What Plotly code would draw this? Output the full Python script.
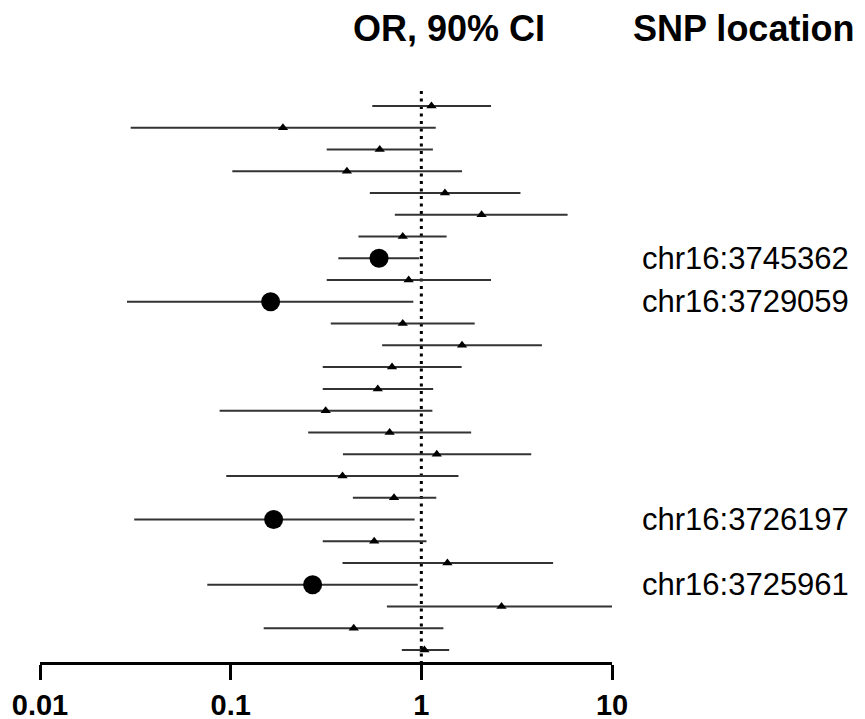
import plotly.graph_objects as go

# ---- data ----
odds_ratio = [1.13, 0.188, 0.605, 0.407, 1.33, 2.07, 0.799, 0.60, 0.858, 0.162,
              0.799, 1.635, 0.702, 0.591, 0.315, 0.682, 1.205, 0.386, 0.719, 0.168,
              0.566, 1.37, 0.269, 2.634, 0.442, 1.038]
ci_low = [0.553, 0.0299, 0.319, 0.102, 0.537, 0.726, 0.468, 0.367, 0.319, 0.0286,
          0.335, 0.623, 0.304, 0.304, 0.0875, 0.255, 0.388, 0.0948, 0.4375, 0.0312,
          0.304, 0.386, 0.0754, 0.66, 0.149, 0.79]
ci_high = [2.32, 1.19, 1.15, 1.635, 3.31, 5.85, 1.357, 0.976, 2.32, 0.908,
           1.905, 4.29, 1.627, 1.154, 1.143, 1.825, 3.77, 1.566, 1.198, 0.922,
           1.064, 4.91, 0.958, 10.0, 1.305, 1.40]
snp_labels = {7: "chr16:3745362", 9: "chr16:3729059",
              19: "chr16:3726197", 22: "chr16:3725961"}
tick_vals = [0.01, 0.1, 1, 10]
tick_text = ["0.01", "0.1", "1", "10"]
header_or = "OR, 90% CI"
header_snp = "SNP location"

W, H = 865, 719
FONT = "Liberation Sans, Arial, sans-serif"

rows = list(range(len(odds_ratio)))
sig_idx = sorted(snp_labels.keys())
oth_idx = [i for i in rows if i not in snp_labels]

def pick(arr, idx):
    return [arr[i] for i in idx]

fig = go.Figure()

def add_series(idx, symbol, size):
    x = pick(odds_ratio, idx)
    fig.add_trace(go.Scatter(
        x=x, y=idx, mode="markers",
        marker=dict(symbol=symbol, size=size, color="black", line=dict(width=0)),
        error_x=dict(type="data", symmetric=False,
                     array=[ci_high[i] - odds_ratio[i] for i in idx],
                     arrayminus=[odds_ratio[i] - ci_low[i] for i in idx],
                     width=0, thickness=2, color="#333333"),
        showlegend=False, hoverinfo="skip", cliponaxis=False))

add_series(oth_idx, "triangle-up", 9)
add_series(sig_idx, "circle", 19)

# pixel geometry
x_left, x_right = 40, 612
y_axis_px, top_px = 662, 80
row0_px, row_step = 106, 21.76
n = len(odds_ratio)
y_bottom = (n - 1) + (y_axis_px - (row0_px + (n - 1) * row_step)) / row_step
y_top = -(row0_px - top_px) / row_step

# reference dotted line at OR = 1
fig.add_shape(type="line", xref="x", yref="y", x0=1, x1=1,
              y0=-(row0_px - 91) / row_step, y1=y_bottom,
              line=dict(color="black", width=3, dash="3px,4.5px"), layer="below")

for i, lab in snp_labels.items():
    fig.add_annotation(x=640 / W, xref="paper", y=i, yref="y", text=lab,
                       showarrow=False, xanchor="left", yanchor="middle",
                       font=dict(family=FONT, size=31, color="black"))

fig.add_annotation(x=449 / W, xref="paper", y=1 - 29 / H, yref="paper",
                   text="<b>%s</b>" % header_or, showarrow=False,
                   xanchor="center", yanchor="middle",
                   font=dict(family=FONT, size=36, color="black"))
fig.add_annotation(x=631 / W, xref="paper", y=1 - 29 / H, yref="paper",
                   text="<b>%s</b>" % header_snp, showarrow=False,
                   xanchor="left", yanchor="middle",
                   font=dict(family=FONT, size=36, color="black"))

fig.update_layout(
    width=W, height=H, margin=dict(l=0, r=0, t=0, b=0, pad=0, autoexpand=False),
    plot_bgcolor="white", paper_bgcolor="white", hovermode=False,
    xaxis=dict(type="log", range=[-2, 1], domain=[x_left / W, x_right / W],
               automargin=False, fixedrange=True,
               showgrid=False, zeroline=False, showline=True, linecolor="black",
               linewidth=3, ticks="outside", ticklen=15, tickwidth=3, tickcolor="black",
               tickvals=tick_vals, ticktext=["<b>%s</b>" % t for t in tick_text],
               tickfont=dict(family=FONT, size=29, color="black"), anchor="y"),
    yaxis=dict(range=[y_bottom, y_top], domain=[(H - y_axis_px) / H, (H - top_px) / H],
               automargin=False, fixedrange=True,
               visible=False, showgrid=False, zeroline=False),
)

fig.write_html("out.html", config={"displayModeBar": False, "staticPlot": True},
               post_script="document.body.style.margin='0';document.body.style.padding='0';")
